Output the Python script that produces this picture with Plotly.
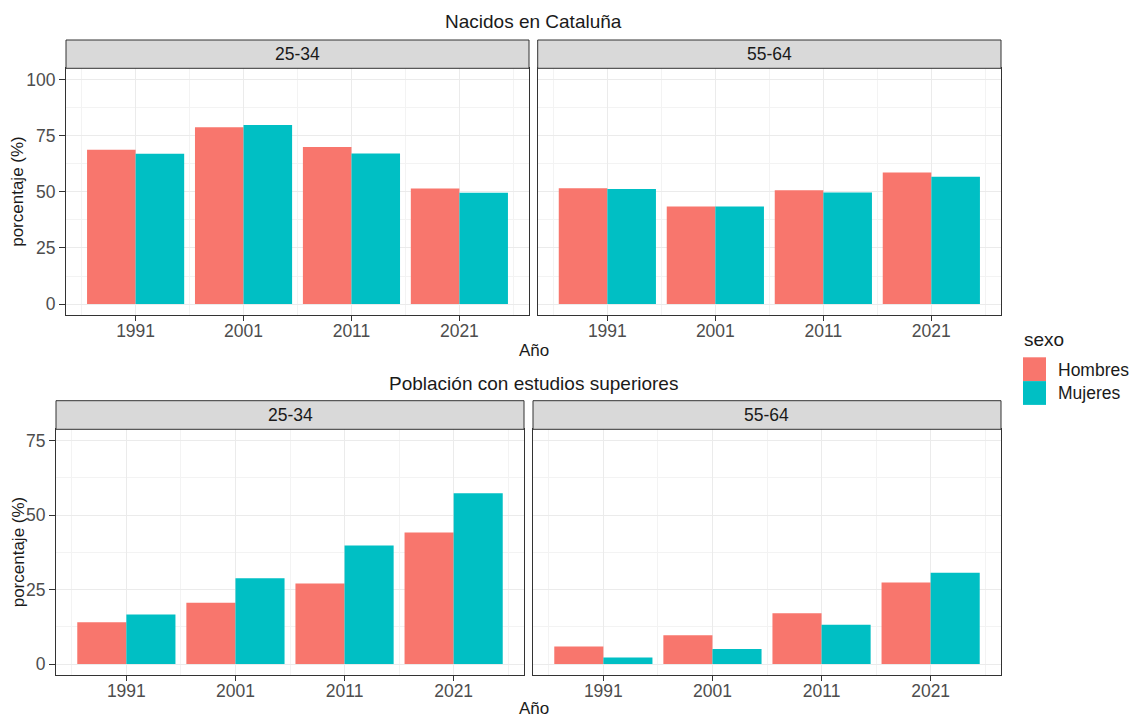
import plotly.graph_objects as go

# data
years = [1991, 2001, 2011, 2021]
sexos = ["Hombres", "Mujeres"]
colores = {"Hombres": "#F8766D", "Mujeres": "#00BFC4"}

nac_2534_h = [68.7, 78.8, 70.0, 51.5]
nac_2534_m = [66.9, 79.7, 67.1, 49.6]
nac_5564_h = [51.6, 43.5, 50.7, 58.6]
nac_5564_m = [51.2, 43.5, 49.7, 56.7]

sup_2534_h = [14.0, 20.6, 27.0, 44.1]
sup_2534_m = [16.6, 28.8, 39.8, 57.3]
sup_5564_h = [5.9, 9.7, 17.1, 27.4]
sup_5564_m = [2.2, 5.1, 13.2, 30.6]

W, H = 1132, 717
FONT = "Liberation Sans, Arial, sans-serif"
TICK = 17.5


def px_x(p):
    return p / W


def px_y(p):
    return 1 - p / H


fig = go.Figure()

panels = [
    ("x", "y", nac_2534_h, nac_2534_m),
    ("x2", "y2", nac_5564_h, nac_5564_m),
    ("x3", "y3", sup_2534_h, sup_2534_m),
    ("x4", "y4", sup_5564_h, sup_5564_m),
]
for xa, ya, h, m in panels:
    for sexo, vals in zip(sexos, [h, m]):
        fig.add_trace(go.Bar(x=years, y=vals, name=sexo, xaxis=xa, yaxis=ya,
                             marker=dict(color=colores[sexo], line=dict(width=0)),
                             showlegend=False))

grid = "#ebebeb"
minor_grid = "#f3f3f3"
border = "#333333"

def xaxis(domain, anchor):
    return dict(domain=domain, anchor=anchor, range=[1984.55, 2027.45],
                tickmode="array", tickvals=years, ticktext=[str(y) for y in years],
                showgrid=True, gridcolor=grid, gridwidth=1,
                minor=dict(tickmode="array", tickvals=[1986, 1996, 2006, 2016, 2026],
                           showgrid=True, gridcolor=minor_grid, gridwidth=1, ticks=""),
                showline=True, mirror=True, linecolor=border, linewidth=1,
                ticks="outside", ticklen=5, tickcolor=border, tickwidth=1,
                ticklabelstandoff=-5,
                tickfont=dict(size=TICK, color="#4d4d4d", family=FONT),
                zeroline=False, fixedrange=True)

def yaxis(domain, anchor, rng, tv, minor_tv, labels=True):
    return dict(domain=domain, anchor=anchor, range=rng,
                tickmode="array", tickvals=tv, ticktext=[str(v) for v in tv],
                showticklabels=labels,
                showgrid=True, gridcolor=grid, gridwidth=1,
                minor=dict(tickmode="array", tickvals=minor_tv,
                           showgrid=True, gridcolor=minor_grid, gridwidth=1, ticks=""),
                showline=True, mirror=True, linecolor=border, linewidth=1,
                ticks="outside" if labels else "", ticklen=6, tickcolor=border, tickwidth=1,
                tickfont=dict(size=TICK, color="#4d4d4d", family=FONT),
                zeroline=False, fixedrange=True)

top_dom = [px_y(315.3), px_y(68.3)]
bot_dom = [px_y(675.3), px_y(429.3)]
tl = [px_x(66), px_x(529)]
tr = [px_x(537.7), px_x(1001)]
bl = [px_x(56), px_x(524)]
br = [px_x(533), px_x(1001)]

top_rng = [-5, 105]
bot_rng = [-3.75, 78.75]
top_tv = [0, 25, 50, 75, 100]
bot_tv = [0, 25, 50, 75]

fig.update_layout(
    width=W, height=H,
    margin=dict(l=0, r=0, t=0, b=0),
    paper_bgcolor="white", plot_bgcolor="white",
    barmode="group", bargap=0.1, bargroupgap=0,
    font=dict(family=FONT, color="#1a1a1a"),
    showlegend=False,
    xaxis=xaxis(tl, "y"), yaxis=yaxis(top_dom, "x", top_rng, top_tv, [12.5, 37.5, 62.5, 87.5]),
    xaxis2=xaxis(tr, "y2"), yaxis2=yaxis(top_dom, "x2", top_rng, top_tv, [12.5, 37.5, 62.5, 87.5], False),
    xaxis3=xaxis(bl, "y3"), yaxis3=yaxis(bot_dom, "x3", bot_rng, bot_tv, [12.5, 37.5, 62.5]),
    xaxis4=xaxis(br, "y4"), yaxis4=yaxis(bot_dom, "x4", bot_rng, bot_tv, [12.5, 37.5, 62.5], False),
)

shapes = []
annotations = []

# strips
strips = [(tl, 40, 68.3, "25-34"), (tr, 40, 68.3, "55-64"),
          (bl, 400.7, 429.3, "25-34"), (br, 400.7, 429.3, "55-64")]
for dom, y0, y1, label in strips:
    shapes.append(dict(type="rect", xref="paper", yref="paper",
                       x0=dom[0], x1=dom[1], y0=px_y(y1), y1=px_y(y0),
                       fillcolor="#d9d9d9", line=dict(color=border, width=1)))
    annotations.append(dict(text=label, xref="paper", yref="paper",
                            x=(dom[0] + dom[1]) / 2, y=px_y((y0 + y1) / 2),
                            showarrow=False, xanchor="center", yanchor="middle",
                            font=dict(size=TICK, color="#1a1a1a", family=FONT)))

# titles
for txt, yy in [("Nacidos en Cataluña", 21.5), ("Población con estudios superiores", 383)]:
    annotations.append(dict(text=txt, xref="paper", yref="paper", x=px_x(533.5), y=px_y(yy),
                            showarrow=False, xanchor="center", yanchor="middle",
                            font=dict(size=19, color="#1a1a1a", family=FONT)))
for yy in [350, 708]:
    annotations.append(dict(text="Año", xref="paper", yref="paper", x=px_x(533.5), y=px_y(yy),
                            showarrow=False, xanchor="center", yanchor="middle",
                            font=dict(size=17, color="#1a1a1a", family=FONT)))
for yy in [191.8, 552.3]:
    annotations.append(dict(text="porcentaje (%)", xref="paper", yref="paper", x=px_x(18), y=px_y(yy),
                            showarrow=False, xanchor="center", yanchor="middle", textangle=-90,
                            font=dict(size=17, color="#1a1a1a", family=FONT)))

# legend
annotations.append(dict(text="sexo", xref="paper", yref="paper", x=px_x(1021.5), y=px_y(339),
                        showarrow=False, xanchor="left", yanchor="middle",
                        font=dict(size=19, color="#1a1a1a", family=FONT)))
for i, sexo in enumerate(sexos):
    y0 = 357.3 + i * 23.8
    shapes.append(dict(type="rect", xref="paper", yref="paper",
                       x0=px_x(1023), x1=px_x(1046), y0=px_y(y0 + 23.8), y1=px_y(y0),
                       fillcolor=colores[sexo], line=dict(width=0)))
    annotations.append(dict(text=sexo, xref="paper", yref="paper", x=px_x(1056), y=px_y(y0 + 12.2),
                            showarrow=False, xanchor="left", yanchor="middle",
                            font=dict(size=TICK, color="#1a1a1a", family=FONT)))

fig.update_layout(shapes=shapes, annotations=annotations)

fig.write_html("out.html", config={"displayModeBar": False},
               post_script="document.body.style.margin='0';")
